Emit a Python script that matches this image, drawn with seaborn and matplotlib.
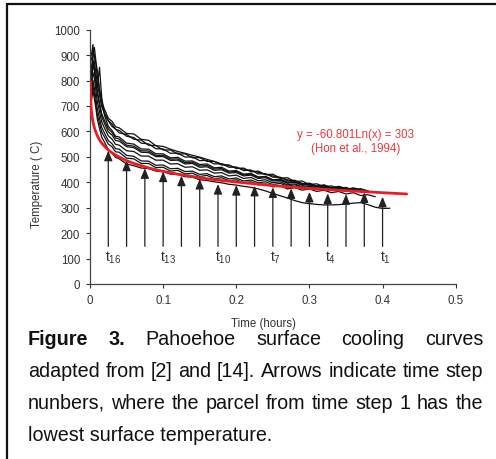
import matplotlib
matplotlib.use("Agg")
import matplotlib.pyplot as plt
from matplotlib.lines import Line2D
import seaborn as sns
import pandas as pd

# --- data ---
time_h = [0.002, 0.004, 0.006, 0.008, 0.010, 0.013, 0.016, 0.020, 0.025, 0.030,
          0.035, 0.040, 0.050, 0.060, 0.070, 0.080, 0.090, 0.100, 0.110, 0.120,
          0.130, 0.140, 0.150, 0.160, 0.170, 0.180, 0.190, 0.200, 0.210, 0.220,
          0.230, 0.240, 0.250, 0.260, 0.270, 0.280, 0.290, 0.300, 0.310, 0.320,
          0.330, 0.340, 0.350, 0.360, 0.370, 0.380, 0.390, 0.400, 0.410]

temp_c1 = [880, 925, 898, 865, 816, 764, 716, 686, 652, 640, 618, 614, 592, 590, 569, 565,
           544, 541, 530, 521, 514, 506, 499, 490, 482, 472, 466, 457, 452, 446, 439, 431,
           425, 418, 410, 403, 396, 390, 386, 381, 379, 375, 374, 370, 369, 367]
temp_c2 = [850, 905, 930, 878, 838, 768, 707, 666, 642, 620, 609, 594, 588, 569, 566, 546,
           544, 527, 527, 511, 512, 496, 497, 482, 482, 468, 468, 454, 456, 441, 444, 430,
           432, 416, 418, 403, 405, 391, 394, 382, 386, 375, 380, 369, 375, 366]
temp_c3 = [820, 880, 858, 800, 772, 852, 735, 662, 620, 604, 581, 578, 554, 550, 531, 530,
           512, 512, 496, 498, 483, 484, 470, 472, 457, 459, 444, 446, 432, 435, 421, 423,
           410, 412, 399, 403, 390, 394, 382, 387, 376, 381, 371, 376, 369]
temp_c4 = [800, 862, 838, 792, 748, 702, 658, 630, 598, 586, 564, 562, 540, 536, 518, 517,
           501, 501, 486, 487, 472, 474, 459, 461, 447, 449, 436, 438, 425, 428, 415, 418,
           405, 408, 396, 400, 388, 392, 381, 385, 374, 379, 368, 374]
temp_c5 = [780, 832, 808, 762, 718, 677, 638, 612, 583, 570, 549, 546, 524, 521, 503, 503,
           487, 487, 472, 473, 459, 461, 447, 449, 436, 438, 425, 428, 415, 419, 406, 410,
           398, 402, 390, 394, 382, 387, 376, 381, 370, 376, 366, 372, 364]
temp_c6 = [760, 802, 768, 732, 688, 652, 616, 592, 564, 552, 532, 530, 506, 502, 484, 483,
           467, 468, 453, 455, 442, 444, 431, 434, 422, 425, 413, 417, 405, 409, 398, 402,
           391, 396, 385, 390, 379, 384, 374, 379, 369, 375, 365, 371, 362, 367]
temp_c7 = [740, 782, 748, 707, 666, 632, 598, 577, 550, 540, 520, 518, 495, 492, 474, 474,
           458, 459, 444, 447, 433, 436, 423, 427, 414, 418, 406, 410, 398, 402, 390, 394,
           382, 386, 374, 379, 369, 374, 364, 369, 359, 364, 354, 359, 348, 351, 343]
temp_c8 = [720, 762, 728, 692, 648, 612, 578, 557, 528, 514, 498, 492, 472, 465, 456, 454,
           444, 442, 432, 431, 422, 420, 410, 407, 402, 398, 392, 389, 384, 380, 374, 366,
           356, 347, 338, 328, 320, 316, 313, 311, 311, 312, 315, 318, 320, 312, 302, 297, 298]
temp_c9 = [900, 942, 868, 832, 788, 742, 698, 672, 643, 629, 608, 604, 581, 576, 554, 551,
           532, 531, 514, 515, 499, 500, 485, 486, 472, 473, 459, 460, 446, 448, 433, 434,
           420, 420, 406, 408, 394, 396, 384, 388, 377, 382, 372, 378, 371]
temp_c10 = [830, 872, 843, 802, 758, 714, 670, 642, 610, 596, 574, 570, 546, 542, 524, 523,
            506, 506, 491, 492, 477, 479, 464, 466, 452, 454, 440, 443, 429, 432, 419, 422,
            409, 412, 400, 404, 392, 396, 385, 390, 379, 384, 376]

# Hon et al. (1994) fit
fit_time = [0.0003, 0.0006, 0.001, 0.0015, 0.002, 0.003, 0.004, 0.005, 0.007, 0.010,
            0.013, 0.016, 0.020, 0.025, 0.030, 0.040, 0.050, 0.060, 0.070, 0.085,
            0.100, 0.120, 0.140, 0.160, 0.180, 0.200, 0.250, 0.300, 0.350, 0.400, 0.433]
fit_temp = [796, 754, 723, 698, 681, 656, 639, 625, 605, 583, 567, 554, 541, 527, 516,
            499, 485, 474, 465, 453, 443, 432, 423, 414, 407, 401, 387, 376, 367, 359, 354]

# time-step arrows (t16 ... t1)
arrow_time = [0.025, 0.050, 0.075, 0.100, 0.125, 0.150, 0.175, 0.200,
              0.225, 0.250, 0.275, 0.300, 0.325, 0.350, 0.375, 0.400]
arrow_tip = [524, 485, 455, 442, 426, 413, 393, 389, 386, 380, 376, 362, 356, 353, 360, 343]
arrow_base = 148
step_labels = ["16", "13", "10", "7", "4", "1"]
step_label_idx = [0, 3, 6, 9, 12, 15]

x_ticks = [0, 0.1, 0.2, 0.3, 0.4, 0.5]
x_tick_labels = ["0", "0.1", "0.2", "0.3", "0.4", "0.5"]
y_ticks = [0, 100, 200, 300, 400, 500, 600, 700, 800, 900, 1000]

caption = [
    [("Figure", "bold"), ("3.", "bold"), ("Pahoehoe", "normal"), ("surface", "normal"),
     ("cooling", "normal"), ("curves", "normal")],
    "adapted from [2] and [14]. Arrows indicate time step",
    "nunbers, where the parcel from time step 1 has the",
    "lowest surface temperature.",
]

# --- long table for seaborn ---
curves = [temp_c1, temp_c2, temp_c3, temp_c4, temp_c5, temp_c6, temp_c7, temp_c8, temp_c9, temp_c10]
rows = []
for k, temps in enumerate(curves):
    for t, v in zip(time_h, temps):
        rows.append({"time": t, "temp": v, "curve": k})
df = pd.DataFrame(rows)
df_fit = pd.DataFrame({"time": fit_time, "temp": fit_temp})

sns.set_style("ticks")
plt.rcParams["font.family"] = ["Liberation Sans", "DejaVu Sans"]
plt.rcParams["mathtext.default"] = "regular"

W, H = 496, 460
fig = plt.figure(figsize=(W / 100, H / 100), dpi=100)
ax = fig.add_axes([90 / W, 1 - 285 / H, 365.7 / W, 254.3 / H])

sns.lineplot(data=df, x="time", y="temp", units="curve", estimator=None, sort=False,
             color="#111111", lw=0.9, ax=ax, zorder=2)
sns.lineplot(data=df_fit, x="time", y="temp", color="#ec1c24", lw=2.0, ax=ax, zorder=4)

for x, tip in zip(arrow_time, arrow_tip):
    ax.annotate("", xy=(x, tip), xytext=(x, arrow_base),
                arrowprops=dict(arrowstyle="-|>,head_length=0.6,head_width=0.25",
                                color="#222222", lw=0.9, shrinkA=0, shrinkB=0),
                zorder=5)
for lab, i in zip(step_labels, step_label_idx):
    ax.text(arrow_time[i] - 0.004, 108, r"$t_{%s}$" % lab, fontsize=10,
            ha="left", va="center", color="#333333")

ax.text(0.363, 590, "y = -60.801Ln(x) = 303", color="#e8393a", fontsize=8.3,
        ha="center", va="center")
ax.text(0.363, 534, "(Hon et al., 1994)", color="#e8393a", fontsize=8.3,
        ha="center", va="center")

ax.set_xlim(0, 0.5)
ax.set_ylim(0, 1000)
ax.set_xticks(x_ticks)
ax.set_xticklabels(x_tick_labels)
ax.set_yticks(y_ticks)
ax.tick_params(labelsize=8.3, length=3, width=0.8, pad=4, colors="#333333")
for s in ["top", "right"]:
    ax.spines[s].set_visible(False)
for s in ["left", "bottom"]:
    ax.spines[s].set_color("#444444")
    ax.spines[s].set_linewidth(0.9)
ax.set_xlabel("Time (hours)", fontsize=8.3, color="#333333")
ax.set_ylabel("Temperature ( C)", fontsize=8.3, color="#333333")
ax.xaxis.set_label_coords(0.473, -0.13)
ax.yaxis.set_label_coords(-0.128, 0.397)

# --- frame lines (top and left) ---
fig.add_artist(Line2D([7 / W, 1], [1 - 5 / H, 1 - 5 / H], transform=fig.transFigure,
                      color="#111111", lw=1.6))
fig.add_artist(Line2D([7 / W, 7 / W], [0, 1 - 5 / H], transform=fig.transFigure,
                      color="#111111", lw=1.6))

# --- justified caption ---
renderer = fig.canvas.get_renderer()
left_px, right_px = 28, 483
probe = fig.text(0, 0, caption[1], fontsize=10)
natural = probe.get_window_extent(renderer).width
probe.remove()
cap_fs = 10 * (right_px - left_px - 3) / natural

baselines = [345, 377, 409, 441]
for n, line in enumerate(caption):
    if isinstance(line, str):
        words = [(w, "normal") for w in line.split()]
    else:
        words = line
    y = 1 - baselines[n] / H
    if n == len(caption) - 1:
        fig.text(left_px / W, y, line, fontsize=cap_fs, va="baseline", color="#111111")
        continue
    arts = [fig.text(0, y, w, fontsize=cap_fs, fontweight=wt, va="baseline", color="#111111")
            for w, wt in words]
    widths = [a.get_window_extent(renderer).width for a in arts]
    gap = (right_px - left_px - sum(widths)) / (len(arts) - 1)
    x = left_px
    for a, w in zip(arts, widths):
        a.set_x(x / W)
        x += w + gap

fig.savefig("out.png", dpi=100)
